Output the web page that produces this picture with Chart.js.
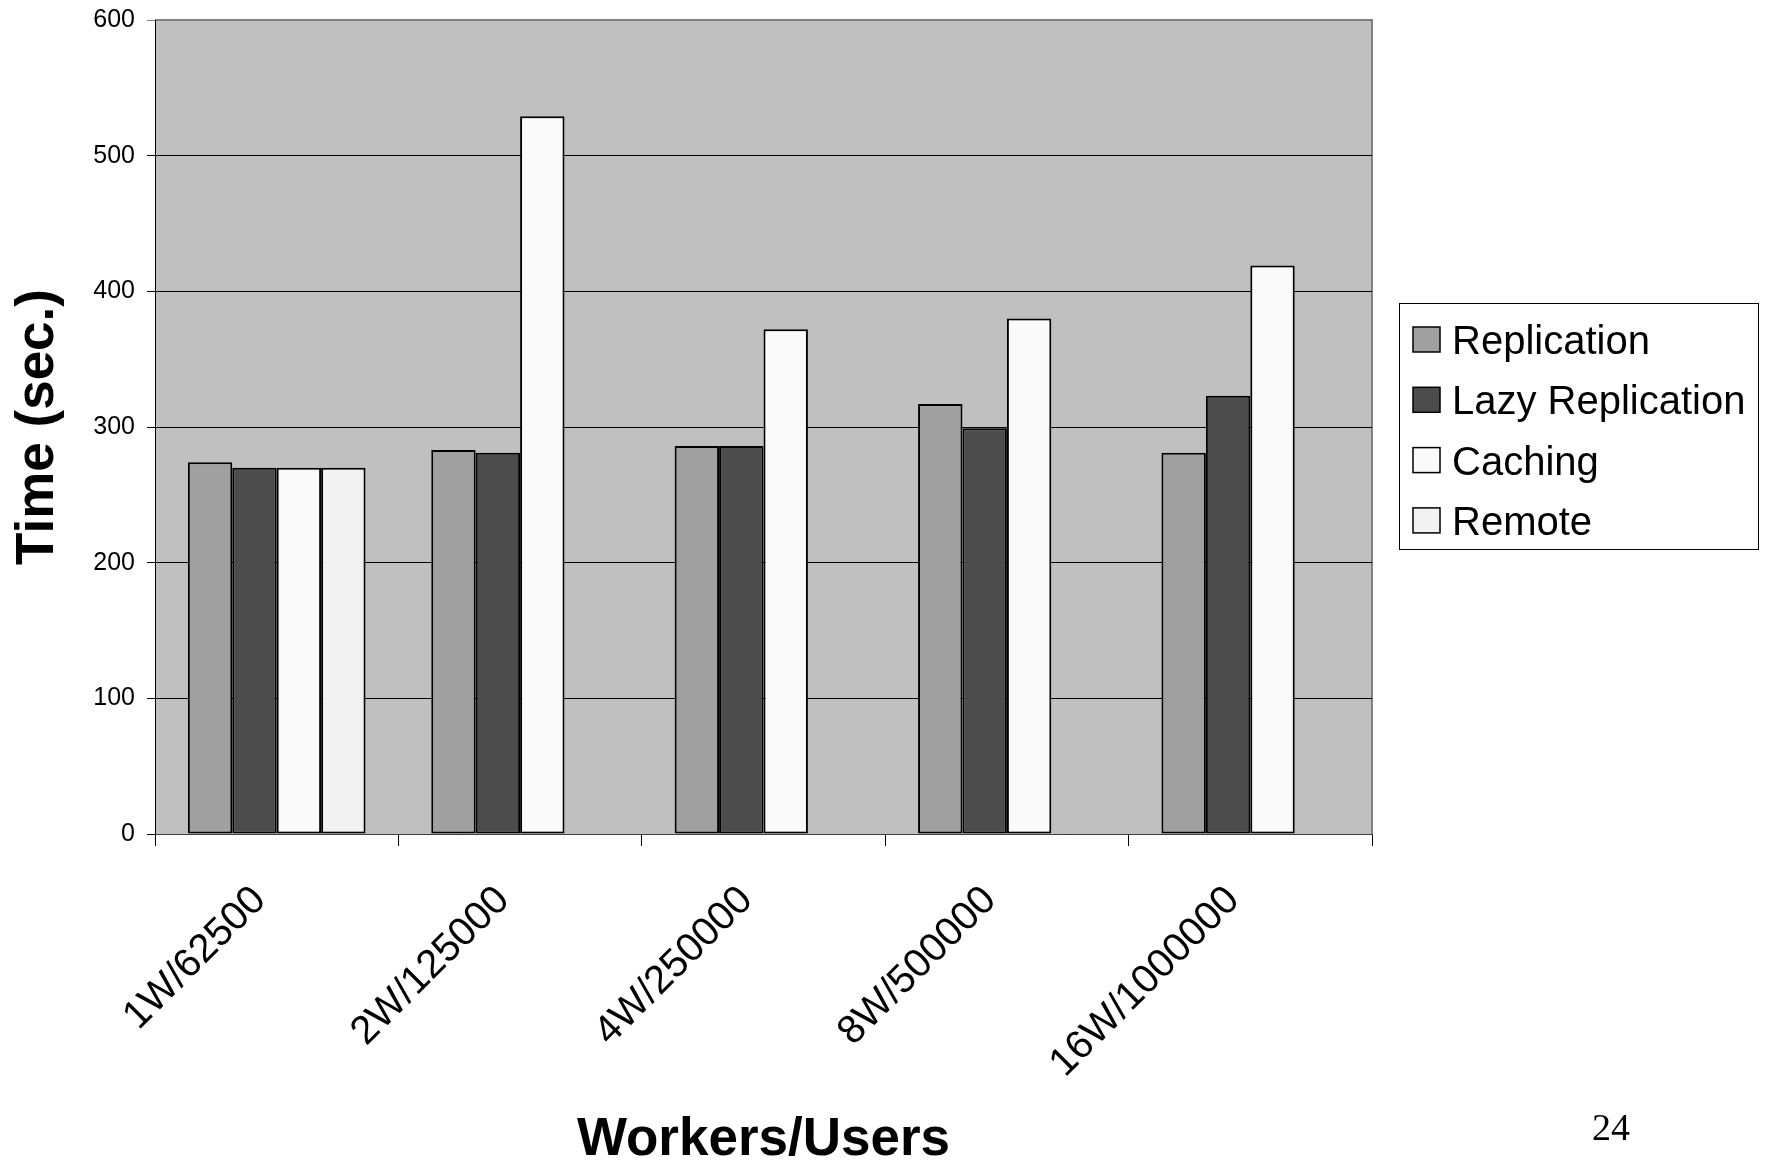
<!DOCTYPE html>
<html>
<head>
<meta charset="utf-8">
<script src="https://cdn.jsdelivr.net/npm/chart.js@4.4.1/dist/chart.umd.min.js"></script>
<style>
  html, body { margin: 0; padding: 0; background: #fff; }
  canvas { display: block; }
</style>
</head>
<body>
<canvas id="chart" width="1767" height="1167"></canvas>
<script>
// Workload size per run and measured completion time (seconds)
const categories = ['1W/62500', '2W/125000', '4W/250000', '8W/500000', '16W/1000000'];
const seriesNames = ['Replication', 'Lazy Replication', 'Caching', 'Remote'];
const replication = [274, 283, 286, 317, 281];
const lazyReplication = [270, 281, 286, 299, 323];
const caching = [270, 529, 372, 380, 419];
const remote = [270, null, null, null, null];
const yMin = 0, yMax = 600, yStep = 100;
const pageNumber = '24';

const seriesFills = ['#A0A0A0', '#4C4C4C', '#FAFAFA', '#F2F2F2'];

// Grey plot background with a thin frame on top and right
const plotBackground = {
  id: 'plotBackground',
  beforeDraw(chart) {
    const { ctx, chartArea: a } = chart;
    ctx.save();
    ctx.fillStyle = '#C0C0C0';
    ctx.fillRect(a.left, a.top, a.right - a.left, a.bottom - a.top);
    ctx.strokeStyle = '#808080';
    ctx.lineWidth = 2;
    ctx.beginPath();
    ctx.moveTo(a.left, a.top);
    ctx.lineTo(a.right, a.top);
    ctx.lineTo(a.right, a.bottom);
    ctx.stroke();
    ctx.restore();
  }
};

// Boxed legend to the right of the plot, plus the slide number
const boxedLegend = {
  id: 'boxedLegend',
  afterDraw(chart) {
    const { ctx } = chart;
    ctx.save();
    ctx.strokeStyle = '#000';
    ctx.lineWidth = 1;
    ctx.strokeRect(1399.5, 303.5, 359, 246);
    ctx.font = '40px "Liberation Sans", Arial, sans-serif';
    ctx.textBaseline = 'alphabetic';
    ctx.textAlign = 'left';
    chart.data.datasets.forEach((ds, i) => {
      const base = 354 + i * 60.3;
      ctx.fillStyle = ds.backgroundColor;
      ctx.fillRect(1413, base - 27, 27, 25);
      ctx.strokeStyle = '#000';
      ctx.lineWidth = 1.5;
      ctx.strokeRect(1413, base - 27, 27, 25);
      ctx.fillStyle = '#000';
      ctx.fillText(ds.label, 1452, base);
    });
    ctx.font = '38px "Liberation Serif", "Times New Roman", serif';
    ctx.fillText(pageNumber, 1592, 1140);
    ctx.restore();
  }
};

const seriesValues = [replication, lazyReplication, caching, remote];

new Chart(document.getElementById('chart'), {
  type: 'bar',
  data: {
    labels: categories,
    datasets: seriesValues.map((vals, i) => ({
      label: seriesNames[i],
      data: vals,
      backgroundColor: seriesFills[i],
      borderColor: '#000',
      borderWidth: 2,
      borderSkipped: false,
      categoryPercentage: 0.73,
      barPercentage: 1.0
    }))
  },
  options: {
    responsive: false,
    animation: false,
    layout: { padding: { left: 0, top: 20, right: 395, bottom: 0 } },
    plugins: {
      legend: { display: false },
      tooltip: { enabled: false }
    },
    scales: {
      x: {
        grid: {
          offset: true,
          drawOnChartArea: false,
          drawTicks: true,
          tickLength: 12,
          color: '#000'
        },
        border: { color: '#404040', width: 1 },
        ticks: {
          autoSkip: false,
          maxRotation: 45,
          minRotation: 45,
          padding: 31,
          labelOffset: -17,
          color: '#000',
          font: { family: '"Liberation Sans", Arial, sans-serif', size: 40 }
        },
        title: {
          display: true,
          text: 'Workers/Users',
          color: '#000',
          font: { family: '"Liberation Sans", Arial, sans-serif', size: 53, weight: 'bold', lineHeight: 1 },
          padding: { top: 0, bottom: 0 }
        },
        afterFit(scale) {
          scale.height = 333;
          scale.paddingLeft = 0;
          scale.paddingRight = 0;
        }
      },
      y: {
        min: yMin,
        max: yMax,
        grid: {
          color: (c) => (c.tick && c.tick.value === yMax ? '#808080' : '#000'),
          lineWidth: 1,
          tickLength: 8,
          drawTicks: true
        },
        border: { color: '#000', width: 1 },
        ticks: {
          stepSize: yStep,
          padding: 12,
          color: '#000',
          font: { family: '"Liberation Sans", Arial, sans-serif', size: 25 }
        },
        title: {
          display: true,
          text: 'Time (sec.)',
          color: '#000',
          font: { family: '"Liberation Sans", Arial, sans-serif', size: 53, weight: 'bold', lineHeight: 1 },
          padding: { top: 12, bottom: 0 }
        },
        afterFit(scale) {
          scale.width = 155;
          scale.paddingTop = 0;
          scale.paddingBottom = 0;
        }
      }
    }
  },
  plugins: [plotBackground, boxedLegend]
});
</script>
</body>
</html>
